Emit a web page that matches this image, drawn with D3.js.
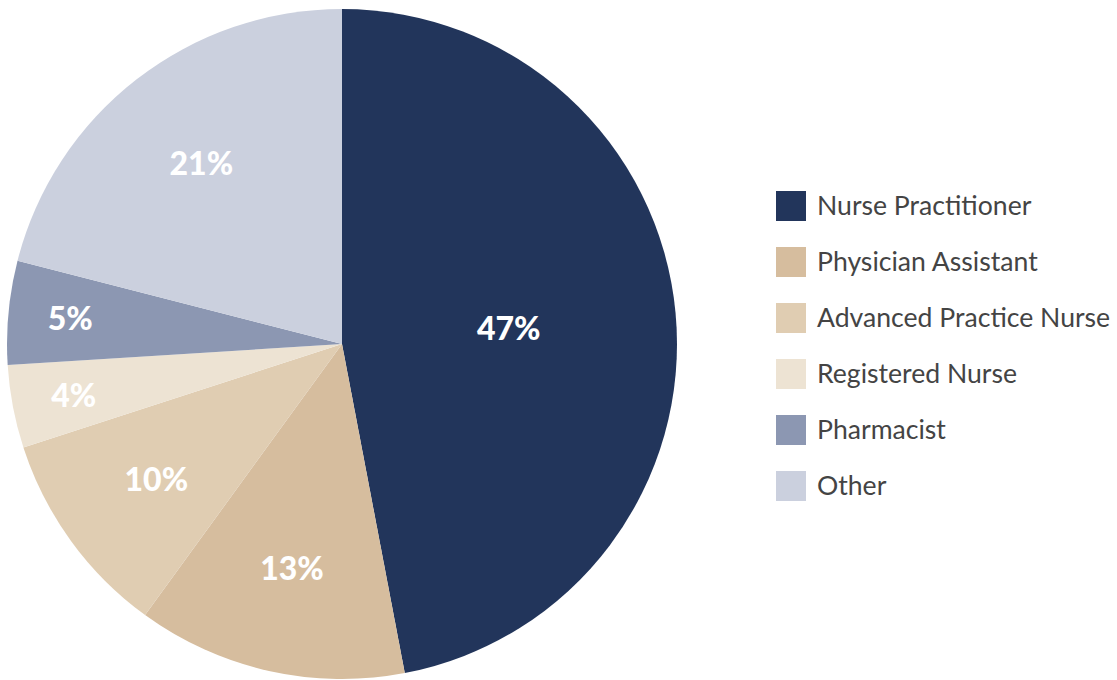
<!DOCTYPE html>
<html>
<head>
<meta charset="utf-8">
<script src="https://cdn.jsdelivr.net/npm/d3@7"></script>
<style>
  body { margin: 0; background: #fff; }
  text { font-family: Lato, sans-serif; }
</style>
</head>
<body>
<div id="chart"></div>
<script>
const categories = ["Nurse Practitioner", "Physician Assistant", "Advanced Practice Nurse", "Registered Nurse", "Pharmacist", "Other"];
const values = [47, 13, 10, 4, 5, 21];
const colors = ["#22355b", "#d6bd9e", "#e0cdb2", "#ede3d3", "#8c97b2", "#cbd0de"];

const width = 1117, height = 680;
const cx = 342, cy = 344, radius = 335;

const svg = d3.select("#chart")
    .append("svg")
    .attr("width", width)
    .attr("height", height);

const data = categories.map((c, i) => ({ name: c, value: values[i], color: colors[i] }));

const pie = d3.pie()
    .value(d => d.value)
    .sort(null);

const arc = d3.arc()
    .innerRadius(0)
    .outerRadius(radius);

const g = svg.append("g")
    .attr("transform", `translate(${cx},${cy})`);

const arcs = pie(data);

g.selectAll("path")
    .data(arcs)
    .join("path")
    .attr("d", arc)
    .attr("fill", d => d.data.color);

// labels sit further out on the thinner slices
function labelR(d) {
    if (d.data.value >= 40) return radius * 0.5;
    if (d.data.value >= 10) return radius * 0.685;
    return radius * 0.815;
}

g.selectAll("text.lbl")
    .data(arcs)
    .join("text")
    .attr("class", "lbl")
    .attr("transform", d => {
        const a = (d.startAngle + d.endAngle) / 2;
        const r = labelR(d);
        return `translate(${Math.sin(a) * r},${-Math.cos(a) * r})`;
    })
    .attr("text-anchor", "middle")
    .attr("dy", "0.38em")
    .attr("fill", "#fff")
    .style("font-size", "32px")
    .style("font-weight", "900")
    .text(d => d.data.value + "%");

// legend
const lx = 776, ly = 191;
const legend = svg.append("g");
data.forEach((d, i) => {
    legend.append("rect")
        .attr("x", lx)
        .attr("y", ly + i * 56)
        .attr("width", 30)
        .attr("height", 30)
        .attr("fill", d.color);
    legend.append("text")
        .attr("x", lx + 41)
        .attr("y", ly + i * 56 + 15)
        .attr("dy", "0.35em")
        .attr("fill", "#444")
        .style("font-size", "26.6px")
        .text(d.name);
});
</script>
</body>
</html>
